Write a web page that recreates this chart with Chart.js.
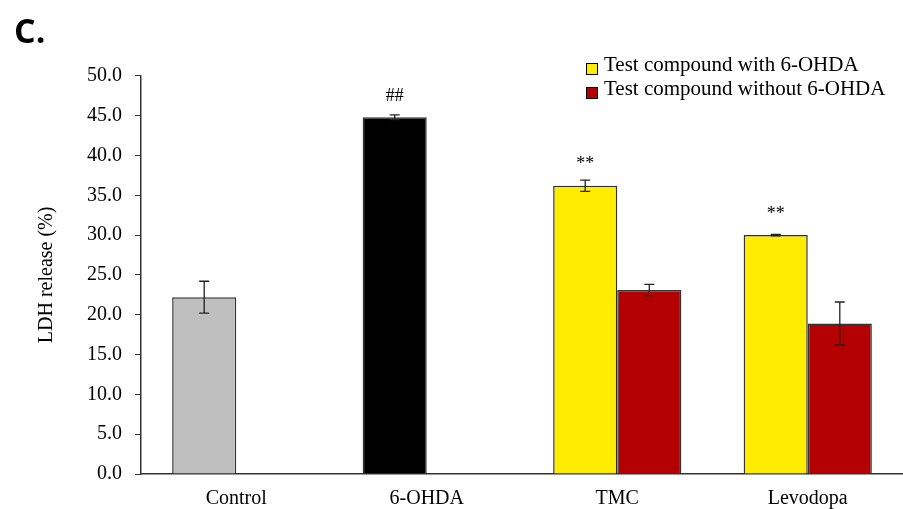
<!DOCTYPE html>
<html>
<head>
<meta charset="utf-8">
<script src="https://cdn.jsdelivr.net/npm/chart.js@4.4.1/dist/chart.umd.min.js"></script>
<style>
    html, body { margin: 0; padding: 0; background: #ffffff; }
    #wrap { width: 903px; height: 509px; }
</style>
</head>
<body>
<div id="wrap"><canvas id="ldhChart"></canvas></div>
<script>
const categories = ["Control", "6-OHDA", "TMC", "Levodopa"];
const with_ohda = [22.2, 44.8, 36.2, 30.0];
const with_ohda_err = [2.0, 0.3, 0.7, 0.1];
const without_ohda = [null, null, 23.1, 18.9];
const without_ohda_err = [0, 0, 0.7, 2.7];
const marks = ["", "##", "**", "**"];
const with_colors = ["#bfbfbf", "#000000", "#ffec00", "#ffec00"];
const legend_labels = ["Test compound with 6-OHDA", "Test compound without 6-OHDA"];
const legend_colors = ["#ffec00", "#b30000"];

const serif = "'Liberation Serif', 'Times New Roman', serif";

// error bars, significance marks and the boxed legend
const extrasPlugin = {
    id: "extras",
    afterDatasetsDraw(chart) {
        const ctx = chart.ctx;
        const y = chart.scales.y;
        const errs = [with_ohda_err, without_ohda_err];
        ctx.save();
        ctx.strokeStyle = "#222222";
        ctx.lineWidth = 1.3;
        errs.forEach((errList, d) => {
            const meta = chart.getDatasetMeta(d);
            meta.data.forEach((bar, i) => {
                const v = chart.data.datasets[d].data[i];
                if (v == null) return;
                const top = y.getPixelForValue(v + errList[i]);
                const bottom = y.getPixelForValue(v - errList[i]);
                ctx.beginPath();
                ctx.moveTo(bar.x, top);
                ctx.lineTo(bar.x, bottom);
                ctx.moveTo(bar.x - 5, top);
                ctx.lineTo(bar.x + 5, top);
                ctx.moveTo(bar.x - 5, bottom);
                ctx.lineTo(bar.x + 5, bottom);
                ctx.stroke();
            });
        });

        ctx.fillStyle = "#000000";
        ctx.font = "18px " + serif;
        ctx.textAlign = "center";
        ctx.textBaseline = "middle";
        const meta0 = chart.getDatasetMeta(0);
        marks.forEach((m, i) => {
            if (!m) return;
            const bar = meta0.data[i];
            ctx.fillText(m, bar.x, bar.y - 21);
        });

        ctx.textAlign = "left";
        ctx.textBaseline = "alphabetic";
        ctx.font = "21px " + serif;
        legend_labels.forEach((label, i) => {
            const ty = 71 + i * 24;
            ctx.fillStyle = legend_colors[i];
            ctx.fillRect(586, ty - 8, 12, 12);
            ctx.strokeStyle = "#000000";
            ctx.lineWidth = 1;
            ctx.strokeRect(586.5, ty - 7.5, 11, 11);
            ctx.fillStyle = "#000000";
            ctx.fillText(label, 604, ty);
        });
        ctx.restore();
    },
};

new Chart(document.getElementById("ldhChart"), {
    type: "bar",
    data: {
        labels: categories,
        datasets: [
            {
                label: legend_labels[0],
                data: with_ohda,
                backgroundColor: with_colors,
                borderColor: "#333333",
                borderWidth: 1.5,
            },
            {
                label: legend_labels[1],
                data: without_ohda,
                backgroundColor: legend_colors[1],
                borderColor: "#333333",
                borderWidth: 1.5,
            },
        ],
    },
    options: {
        responsive: true,
        maintainAspectRatio: false,
        animation: false,
        layout: { padding: { left: 14, right: -6, top: 4, bottom: -15 } },
        datasets: { bar: { barPercentage: 1.0, categoryPercentage: 0.673 } },
        plugins: {
            legend: { display: false },
            tooltip: { enabled: false },
            title: {
                display: true,
                text: "C.",
                align: "start",
                color: "#000000",
                font: { family: "'Open Sans', 'Liberation Sans', sans-serif", size: 34, weight: "bold" },
                padding: { top: 9, bottom: 22 },
            },
        },
        scales: {
            x: {
                grid: { display: false, drawTicks: false },
                border: { color: "#333333", width: 1.5 },
                ticks: {
                    color: "#000000",
                    padding: 13,
                    font: { family: serif, size: 20 },
                },
            },
            y: {
                min: 0,
                max: 50,
                grid: {
                    drawOnChartArea: false,
                    drawTicks: true,
                    tickLength: 6,
                    color: "#333333",
                },
                border: { color: "#333333", width: 1.5 },
                ticks: {
                    stepSize: 5,
                    color: "#000000",
                    padding: 13,
                    font: { family: serif, size: 20 },
                    callback: (v) => v.toFixed(1),
                },
                title: {
                    display: true,
                    text: "LDH release (%)",
                    color: "#000000",
                    font: { family: serif, size: 20 },
                    padding: { top: 21, bottom: 15 },
                },
            },
        },
    },
    plugins: [extrasPlugin],
});
</script>
</body>
</html>
